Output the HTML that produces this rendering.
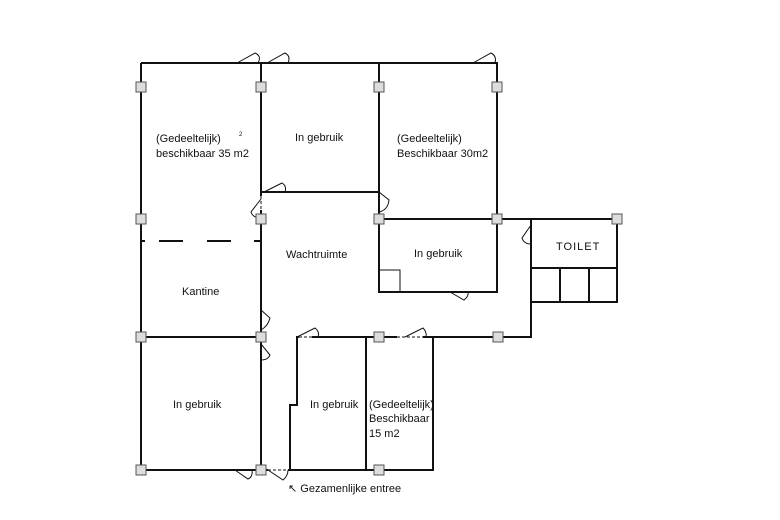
<!DOCTYPE html><html><head><style>body{margin:0;background:#fff}svg{display:block}text{font-family:"Liberation Sans",sans-serif;font-size:11px;fill:#111}</style></head><body>
<svg width="780" height="520" viewBox="0 0 780 520">
<g stroke="#111" stroke-width="2" fill="none">
<path d="M141 63H497V219M141 63V470H433V337H297V405H290V470M261 63V470M379 63V292H497V219M261 192H379M379 219H531V337H379M141 337H261M366 337V470M531 302H617V219H531M531 268H617M560 268V302M589 268V302"/>
<path d="M141 241H145M159 241H183M207 241H231M254 241H261"/>
</g>
<g stroke="#fff" stroke-width="3"><path d="M299 337H312M397 337H423M268 470H288M261 196V210"/></g>
<g stroke="#111" stroke-width="1" fill="none" stroke-dasharray="3 2"><path d="M299 337H312M397 337H423M268 470H288M261 196V210"/></g>
<g stroke="#111" stroke-width="1" fill="none">
<path d="M237 63L255 53Q262 56 258 63M267 63L285 53Q291 56 288 63M473 63L491 53Q497 56 495 63M264 192L282 183Q287 186 285 192M261 199L251 212Q253 218 261 218M379 192L389 200Q388 210 379 212M531 225L522 238Q524 244 531 244M450 292L464 300Q469 296 468 292M297 337L315 328Q320 332 318 337M405 337L423 328Q427 332 426 337M261 310L270 318Q268 326 261 330M261 344L270 355Q268 360 261 360M235 470L248 479Q253 477 252 470M268 470L283 480Q288 476 288 470M379 270H400V292"/>
</g>
<g fill="#ddd" stroke="#555" stroke-width="1">
<rect x="136" y="82" width="10" height="10"/><rect x="256" y="82" width="10" height="10"/><rect x="374" y="82" width="10" height="10"/><rect x="492" y="82" width="10" height="10"/>
<rect x="136" y="214" width="10" height="10"/><rect x="256" y="214" width="10" height="10"/><rect x="374" y="214" width="10" height="10"/><rect x="492" y="214" width="10" height="10"/><rect x="612" y="214" width="10" height="10"/>
<rect x="136" y="332" width="10" height="10"/><rect x="256" y="332" width="10" height="10"/><rect x="374" y="332" width="10" height="10"/><rect x="493" y="332" width="10" height="10"/>
<rect x="136" y="465" width="10" height="10"/><rect x="256" y="465" width="10" height="10"/><rect x="374" y="465" width="10" height="10"/>
</g>
<text x="156" y="142">(Gedeeltelijk)</text><text x="156" y="157">beschikbaar 35 m2</text><text x="239" y="136" style="font-size:6px">2</text>
<text x="295" y="141">In gebruik</text>
<text x="397" y="142">(Gedeeltelijk)</text><text x="397" y="157">Beschikbaar 30m2</text>
<text x="414" y="257">In gebruik</text>
<text x="286" y="258">Wachtruimte</text>
<text x="182" y="295">Kantine</text>
<text x="556" y="250" style="letter-spacing:1px">TOILET</text>
<text x="173" y="408">In gebruik</text>
<text x="310" y="408">In gebruik</text>
<text x="369" y="408">(Gedeeltelijk)</text><text x="369" y="422">Beschikbaar</text><text x="369" y="437">15 m2</text>
<text x="288" y="492">↖ Gezamenlijke entree</text>
</svg></body></html>
